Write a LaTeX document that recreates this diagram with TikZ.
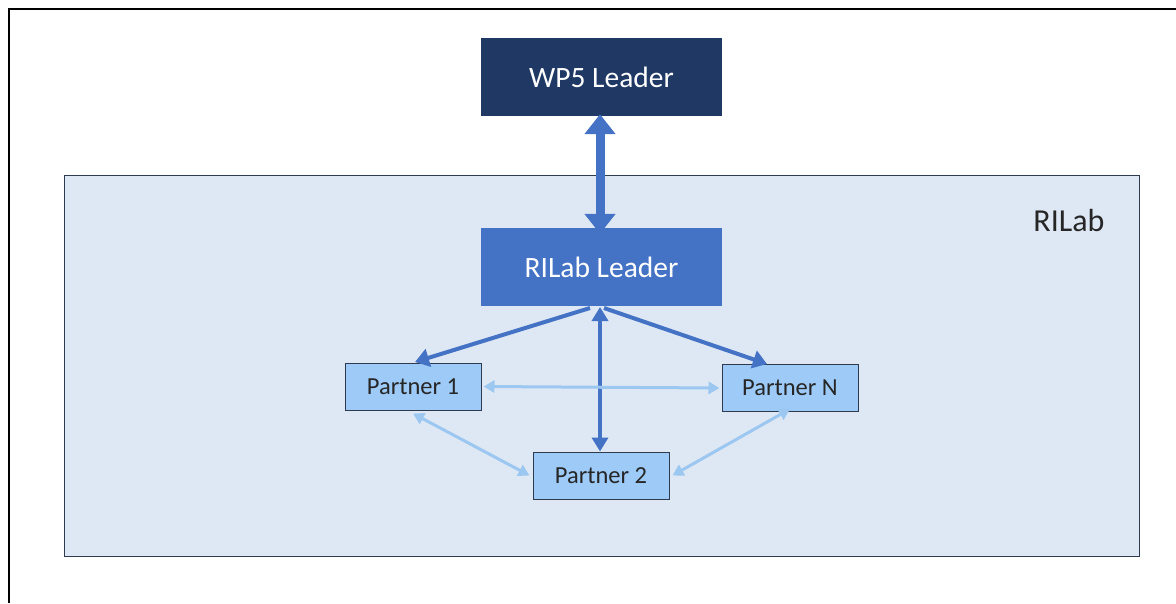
\documentclass[tikz,border=0pt]{standalone}
\usepackage{fontspec}
\setmainfont{Carlito}
\usetikzlibrary{arrows.meta}
\definecolor{navy}{HTML}{1F3864}
\definecolor{midblue}{HTML}{4472C4}
\definecolor{lightblue}{HTML}{9DCAF6}
\definecolor{regionblue}{HTML}{DEE8F4}
\definecolor{lineblue}{HTML}{9CC7F0}
\definecolor{edgegray}{HTML}{2E3B4E}
\tikzset{
  leaderbox/.style={rectangle, inner sep=0pt, minimum width=241pt, minimum height=78pt, text=white, font=\fontsize{29.5}{33}\selectfont},
  partnerbox/.style={rectangle, draw=edgegray, line width=1pt, fill=lightblue, inner sep=0pt, minimum width=136pt, minimum height=47pt, text=black!85, font=\fontsize{24.5}{28}\selectfont},
  bigarrow/.style={midblue, line width=9pt, {Triangle[width=30pt,length=20pt]}-{Triangle[width=30pt,length=20pt]}},
  midarrow/.style={midblue, line width=4pt, -{Triangle[width=18pt,length=14pt]}},
  midboth/.style={midblue, line width=4pt, {Triangle[width=16pt,length=14pt]}-{Triangle[width=16pt,length=14pt]}},
  lightarrow/.style={lineblue, line width=3pt, {Triangle[width=12pt,length=11pt]}-{Triangle[width=12pt,length=11pt]}}
}
\begin{document}
\begin{tikzpicture}[x=1pt,y=-1pt]
\useasboundingbox (0,0) rectangle (1176,603);
\fill[white] (0,0) rectangle (1176,603);
% outer frame
\draw[black, line width=2pt] (9,603) -- (9,9) -- (1176,9);
% region
\node[rectangle, draw=edgegray, line width=1pt, fill=regionblue, minimum width=1075pt, minimum height=381pt, inner sep=0pt] (region) at (601.5,365.5) {};
\node[anchor=east, font=\fontsize{32}{36}\selectfont, text=black!85] (rlabel) at (1108,221) {RILab};
% leaders
\node[leaderbox, fill=navy] (wp5) at (601.5,77) {WP5 Leader};
\node[leaderbox, fill=midblue] (ril) at (601.5,267) {RILab Leader};
% partners
\node[partnerbox] (p1) at (413,386.5) {Partner 1};
\node[partnerbox] (pn) at (790,388) {Partner N};
\node[partnerbox] (p2) at (601,475.5) {Partner 2};
% coordinates for connector ends
\coordinate (rilb) at (600,307);
\coordinate (rilbl) at (590,308);
\coordinate (rilbr) at (604,308);
% connectors
\draw[bigarrow] ([yshift=2pt]wp5.south -| 600,0) -- ([yshift=-6pt]ril.north -| 600,0);
\draw[midboth] (rilb) -- (p2.north -| 600,0);
\draw[midarrow] (rilbl) -- (415,362);
\draw[midarrow] (rilbr) -- (767,364);
\draw[lightarrow] ([xshift=2pt]p1.east) -- ([xshift=-2pt]pn.west);
\draw[lightarrow] (p1.south) ++(0,3) coordinate (p1s) (p1s) -- ([xshift=-3pt]p2.west);
\draw[lightarrow] ([yshift=3pt]pn.south) -- ([xshift=3pt]p2.east);
\end{tikzpicture}
\end{document}
